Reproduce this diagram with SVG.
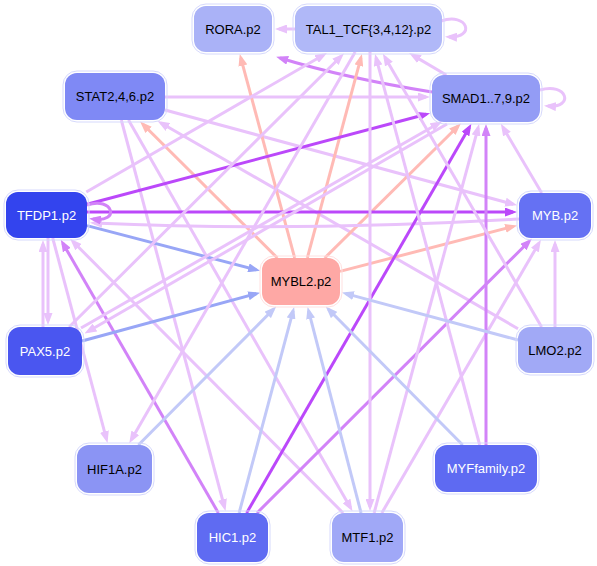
<svg xmlns="http://www.w3.org/2000/svg" width="597" height="566" viewBox="0 0 597 566">
<style>
.e{fill:none;stroke-width:3}
.lp{stroke:#e9c2fb}.p{stroke:#d283f8}.dp{stroke:#bb48fa}.s{stroke:#ffbab5}.lb{stroke:#c2c9f8}.b{stroke:#98a6f6}
.o{fill:none;stroke:#d6d9fc;stroke-width:1}
text{font-family:"Liberation Sans",Arial,sans-serif;font-size:13px;text-anchor:middle}
.w{fill:#ffffff}.k{fill:#000000}
</style>
<defs>
<marker id="mlp" markerWidth="12" markerHeight="9" refX="8" refY="4.5" orient="auto" markerUnits="userSpaceOnUse"><path d="M0,0L12,4.5L0,9z" fill="#e9c2fb"/></marker>
<marker id="mp" markerWidth="12" markerHeight="9" refX="8" refY="4.5" orient="auto" markerUnits="userSpaceOnUse"><path d="M0,0L12,4.5L0,9z" fill="#d283f8"/></marker>
<marker id="mdp" markerWidth="12" markerHeight="9" refX="8" refY="4.5" orient="auto" markerUnits="userSpaceOnUse"><path d="M0,0L12,4.5L0,9z" fill="#bb48fa"/></marker>
<marker id="ms" markerWidth="12" markerHeight="9" refX="8" refY="4.5" orient="auto" markerUnits="userSpaceOnUse"><path d="M0,0L12,4.5L0,9z" fill="#ffbab5"/></marker>
<marker id="mlb" markerWidth="12" markerHeight="9" refX="8" refY="4.5" orient="auto" markerUnits="userSpaceOnUse"><path d="M0,0L12,4.5L0,9z" fill="#c2c9f8"/></marker>
<marker id="mb" markerWidth="12" markerHeight="9" refX="8" refY="4.5" orient="auto" markerUnits="userSpaceOnUse"><path d="M0,0L12,4.5L0,9z" fill="#98a6f6"/></marker>
</defs>
<g id="edges">
<path class="e lp" marker-end="url(#mlp)" d="M295,29 L279,29"/>
<path class="e lp" marker-end="url(#mlp)" d="M441,21 C468,12 476,38 449,37"/>
<path class="e lp" marker-end="url(#mlp)" d="M540,90 C567,82 575,108 548,106"/>
<path class="e p" marker-end="url(#mp)" d="M432,92 Q345,78 280,58"/>
<path class="e lp" marker-end="url(#mlp)" d="M446.3,75 L412.6,55.1"/>
<path class="e lp" marker-end="url(#mlp)" d="M165,97 L426,97"/>
<path class="e lp" marker-end="url(#mlp)" d="M165,110 L513.2,204.2"/>
<path class="e lp" marker-end="url(#mlp)" d="M518,328.7 L161,123"/>
<path class="e lp" marker-end="url(#mlp)" d="M121.3,120 L224.5,507.2"/>
<path class="e lp" marker-end="url(#mlp)" d="M128.5,120 L350.5,507.8"/>
<path class="e s" marker-end="url(#ms)" d="M294.7,258 L240.8,57.8"/>
<path class="e s" marker-end="url(#ms)" d="M307.3,258 L360.9,57.8"/>
<path class="e s" marker-end="url(#ms)" d="M277.4,258 L142.9,124.2"/>
<path class="e s" marker-end="url(#ms)" d="M324.7,258 L458,126.2"/>
<path class="e s" marker-end="url(#ms)" d="M340,271.4 L513.2,226.4"/>
<path class="e dp" marker-end="url(#mdp)" d="M87,204.3 L426.2,114.3"/>
<path class="e dp" marker-end="url(#mdp)" d="M87,212 L513,212"/>
<path class="e lp" marker-end="url(#mlp)" d="M519,219 Q300,232 94,223"/>
<path class="e p" marker-end="url(#mp)" d="M87,205 C113,196 121,223 93,219"/>
<path class="e b" marker-end="url(#mb)" d="M87,225.6 L256.2,269.8"/>
<path class="e lp" marker-end="url(#mlp)" d="M86.3,192 L323.5,55"/>
<path class="e lp" marker-end="url(#mlp)" d="M43,327 L43,244"/>
<path class="e lp" marker-end="url(#mlp)" d="M48,238 L48,321"/>
<path class="e lp" marker-end="url(#mlp)" d="M52.7,238 L106.5,439.2"/>
<path class="e p" marker-end="url(#mp)" d="M218.4,513 L62.8,243.2"/>
<path class="e lp" marker-end="url(#mlp)" d="M343.1,513 L72.9,241.5"/>
<path class="e b" marker-end="url(#mb)" d="M82,341 L256.2,293.7"/>
<path class="e lp" marker-end="url(#mlp)" d="M81,328 L438.8,123.2"/>
<path class="e lp" marker-end="url(#mlp)" d="M447,124 L88,331.5"/>
<path class="e lp" marker-end="url(#mlp)" d="M69.1,327 L341.1,56.2"/>
<path class="e lb" marker-end="url(#mlb)" d="M138.4,445 L273.4,309.3"/>
<path class="e lp" marker-end="url(#mlp)" d="M355.2,52 L131.3,439.8"/>
<path class="e lb" marker-end="url(#mlb)" d="M239.1,513 L293.1,310.8"/>
<path class="e dp" marker-end="url(#mdp)" d="M246.6,513 L469.4,127.2"/>
<path class="e p" marker-end="url(#mp)" d="M257,513 L529,241.5"/>
<path class="e lb" marker-end="url(#mlb)" d="M361.1,513 L308.6,310.8"/>
<path class="e lp" marker-end="url(#mlp)" d="M370,52 L370,507"/>
<path class="e lp" marker-end="url(#mlp)" d="M374.1,513 L478.1,127.8"/>
<path class="e lp" marker-end="url(#mlp)" d="M381.8,513 L538.9,243.2"/>
<path class="e lb" marker-end="url(#mlb)" d="M462.7,445 L328.5,309.3"/>
<path class="e p" marker-end="url(#mp)" d="M486,445 L486,128"/>
<path class="e lp" marker-end="url(#mlp)" d="M479.7,445 L376.1,57.8"/>
<path class="e lb" marker-end="url(#mlb)" d="M518,340 L345.8,293.6"/>
<path class="e lp" marker-end="url(#mlp)" d="M555,327 L555,244"/>
<path class="e lp" marker-end="url(#mlp)" d="M541.6,327 L384.9,57.2"/>
<path class="e lp" marker-end="url(#mlp)" d="M541.7,193 L502.9,127.2"/>
</g>
<g id="RORA"><rect class="o" x="192" y="4" width="82" height="50" rx="14"/><rect x="194" y="6" width="78" height="46" rx="12" fill="#aab2f7"/><text class="k" x="233" y="33.5">RORA.p2</text></g>
<g id="TAL1"><rect class="o" x="293" y="4" width="151" height="50" rx="14"/><rect x="295" y="6" width="147" height="46" rx="12" fill="#b0b8f8"/><text class="k" x="368.5" y="33.5">TAL1_TCF{3,4,12}.p2</text></g>
<g id="STAT"><rect class="o" x="63" y="71" width="104" height="51" rx="14"/><rect x="65" y="73" width="100" height="47" rx="12" fill="#7f89f5"/><text class="k" x="115" y="101">STAT2,4,6.p2</text></g>
<g id="SMAD"><rect class="o" x="430" y="73" width="112" height="51" rx="14"/><rect x="432" y="75" width="108" height="47" rx="12" fill="#939cf5"/><text class="k" x="486" y="103">SMAD1..7,9.p2</text></g>
<g id="TFDP1"><rect class="o" x="4" y="190" width="85" height="50" rx="14"/><rect x="6" y="192" width="81" height="46" rx="12" fill="#3344ee"/><text class="w" x="46.5" y="219.5">TFDP1.p2</text></g>
<g id="MYB"><rect class="o" x="517" y="191" width="76" height="49" rx="14"/><rect x="519" y="193" width="72" height="45" rx="12" fill="#6571f3"/><text class="w" x="555" y="220">MYB.p2</text></g>
<g id="MYBL2"><rect class="o" x="260" y="256" width="82" height="51" rx="14" style="stroke:#ffe0e0"/><rect x="262" y="258" width="78" height="47" rx="12" fill="#fea8a5"/><text class="k" x="301" y="286">MYBL2.p2</text></g>
<g id="PAX5"><rect class="o" x="6" y="325" width="78" height="52" rx="14"/><rect x="8" y="327" width="74" height="48" rx="12" fill="#4a56f0"/><text class="w" x="45" y="355.5">PAX5.p2</text></g>
<g id="LMO2"><rect class="o" x="516" y="325" width="78" height="50" rx="14"/><rect x="518" y="327" width="74" height="46" rx="12" fill="#a1a9f6"/><text class="k" x="555" y="354.5">LMO2.p2</text></g>
<g id="HIF1A"><rect class="o" x="75" y="443" width="79" height="52" rx="14"/><rect x="77" y="445" width="75" height="48" rx="12" fill="#8b94f4"/><text class="k" x="114.5" y="473.5">HIF1A.p2</text></g>
<g id="MYFfamily"><rect class="o" x="433" y="443" width="106" height="51" rx="14"/><rect x="435" y="445" width="102" height="47" rx="12" fill="#5e6af2"/><text class="w" x="486" y="473">MYFfamily.p2</text></g>
<g id="HIC1"><rect class="o" x="195" y="511" width="75" height="53" rx="14"/><rect x="197" y="513" width="71" height="49" rx="12" fill="#5f6bf2"/><text class="w" x="232.5" y="542">HIC1.p2</text></g>
<g id="MTF1"><rect class="o" x="330" y="511" width="75" height="53" rx="14"/><rect x="332" y="513" width="71" height="49" rx="12" fill="#a0a8f7"/><text class="k" x="367.5" y="542">MTF1.p2</text></g>
</svg>
